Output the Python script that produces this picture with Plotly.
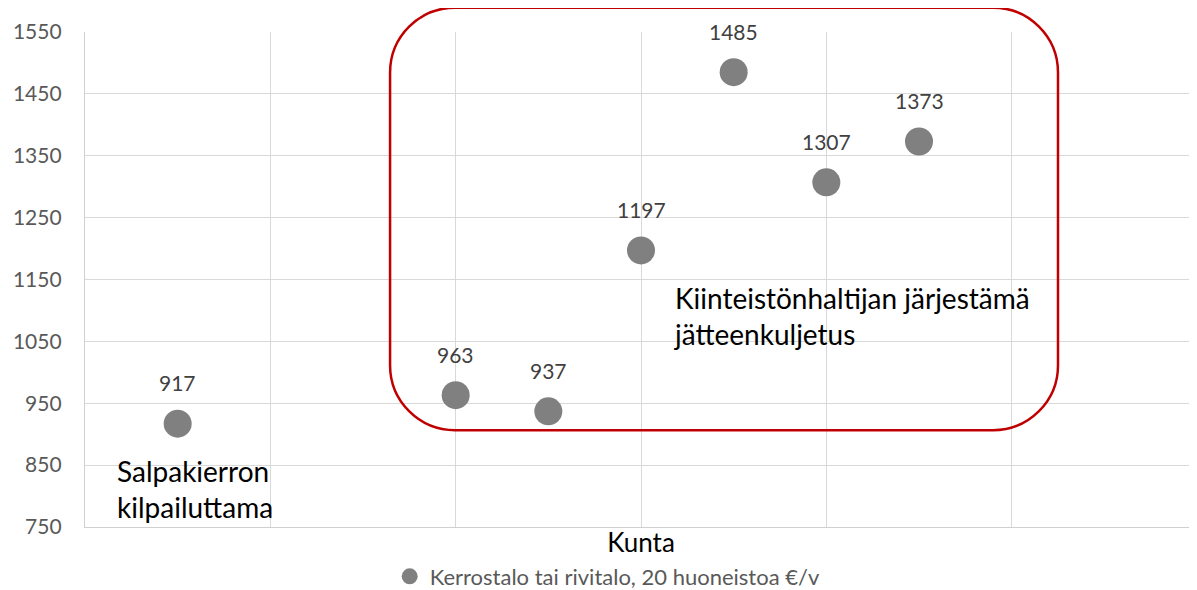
import plotly.graph_objects as go

# Data
x_pos = [0.5, 2, 2.5, 3, 3.5, 4, 4.5]
values = [917, 963, 937, 1197, 1485, 1307, 1373]
series_name = "Kerrostalo tai rivitalo, 20 huoneistoa €/v"
y_ticks = [750, 850, 950, 1050, 1150, 1250, 1350, 1450, 1550]
x_range = [0, 6]
y_range = [750, 1550]

FONT = "Lato, Carlito, Calibri, sans-serif"

fig = go.Figure()
fig.add_trace(go.Scatter(
    x=x_pos, y=values, mode="markers", name=series_name,
    marker=dict(size=28, color="#808080"),
    showlegend=True,
))

# data labels
for xv, yv in zip(x_pos, values):
    fig.add_annotation(x=xv, y=yv, text=str(yv), showarrow=False,
                       yshift=41, font=dict(family=FONT, size=21, color="#404040"))

# free text annotations
fig.add_annotation(x=0.162, y=812, xanchor="left", yanchor="middle", showarrow=False,
                   text="Salpakierron<br>kilpailuttama", align="left",
                   font=dict(family=FONT, size=28, color="#000000"))
fig.add_annotation(x=3.167, y=1091, xanchor="left", yanchor="middle", showarrow=False,
                   text="Kiinteistönhaltijan järjestämä<br>jätteenkuljetus", align="left",
                   font=dict(family=FONT, size=28, color="#000000"))

# rounded rectangle, bounds given in data units, converted to paper units
PLOT_W, PLOT_H = 1112, 495

def px(v):
    return (v - x_range[0]) / (x_range[1] - x_range[0])

def py(v):
    return (v - y_range[0]) / (y_range[1] - y_range[0])

x0, x1 = px(1.646), px(5.25)
y0, y1 = py(906.5), py(1589.3)
rx, ry = 65 / PLOT_W, 65 / PLOT_H
k = 0.5523
path = (
    f"M {x0+rx},{y1} L {x1-rx},{y1} "
    f"C {x1-rx+k*rx},{y1} {x1},{y1-ry+k*ry} {x1},{y1-ry} "
    f"L {x1},{y0+ry} "
    f"C {x1},{y0+ry-k*ry} {x1-rx+k*rx},{y0} {x1-rx},{y0} "
    f"L {x0+rx},{y0} "
    f"C {x0+rx-k*rx},{y0} {x0},{y0+ry-k*ry} {x0},{y0+ry} "
    f"L {x0},{y1-ry} "
    f"C {x0},{y1-ry+k*ry} {x0+rx-k*rx},{y1} {x0+rx},{y1} Z"
)
fig.add_shape(type="path", path=path, xref="paper", yref="paper",
              line=dict(color="#C00000", width=2.5), layer="above")

# page has an 8px body margin, so the figure is sized to fit the window
fig.update_layout(
    width=1189, height=582,
    margin=dict(l=77, r=0, t=24, b=63, autoexpand=False),
    paper_bgcolor="white", plot_bgcolor="white",
    font=dict(family=FONT, color="#595959"),
    legend=dict(orientation="h", x=0.274, xanchor="left", y=-0.1, yanchor="middle",
                font=dict(family=FONT, size=22, color="#595959"), itemwidth=30,
                borderwidth=0),
    xaxis=dict(range=x_range, dtick=1, tick0=0, showticklabels=False,
               showgrid=True, gridcolor="#d9d9d9", gridwidth=1.3,
               zeroline=False, showline=True, linecolor="#d0d0d0", linewidth=1.3,
               automargin=False,
               title=dict(text="Kunta", standoff=6,
                          font=dict(family=FONT, size=26, color="#000000"))),
    yaxis=dict(range=y_range, tickvals=y_ticks, showgrid=True,
               gridcolor="#d9d9d9", gridwidth=1.3, zeroline=False,
               showline=True, linecolor="#d0d0d0", linewidth=1.3,
               automargin=False,
               tickfont=dict(family=FONT, size=21, color="#595959"),
               ticks="", ticklabelstandoff=18),
)

fig.write_html("out.html")
